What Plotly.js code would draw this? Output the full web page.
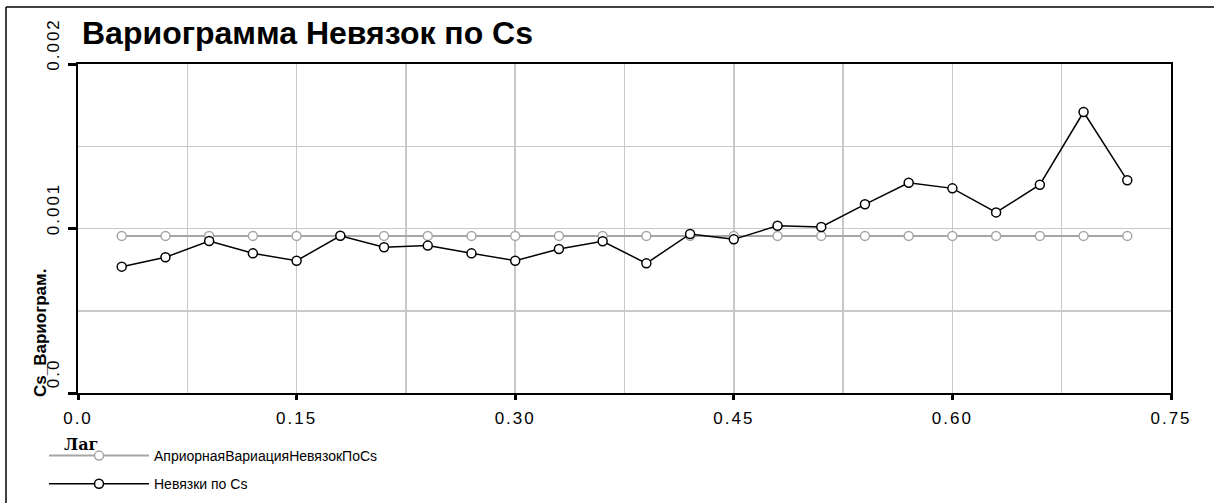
<!DOCTYPE html>
<html>
<head>
<meta charset="utf-8">
<script src="https://cdn.plot.ly/plotly-3.0.1.min.js"></script>
<style>
html,body{margin:0;padding:0;background:#fff;}
#chart{width:1214px;height:503px;}
.xtick text, .ytick text {letter-spacing: 2px;}
</style>
</head>
<body>
<div id="chart"></div>
<script>
// Lag values (x)
const lags = [0.03,0.06,0.09,0.12,0.15,0.18,0.21,0.24,0.27,0.30,0.33,0.36,
              0.39,0.42,0.45,0.48,0.51,0.54,0.57,0.60,0.63,0.66,0.69,0.72];
// A priori variation (constant)
const aprioriValues = [0.000955,0.000955,0.000955,0.000955,0.000955,0.000955,0.000955,0.000955,
                       0.000955,0.000955,0.000955,0.000955,0.000955,0.000955,0.000955,0.000955,
                       0.000955,0.000955,0.000955,0.000955,0.000955,0.000955,0.000955,0.000955];
// Residual variogram
const residualValues = [0.000768,0.000825,0.000924,0.000849,0.000804,0.000956,0.000886,0.000896,
                        0.000849,0.000804,0.000875,0.000922,0.000788,0.000967,0.000934,0.001017,
                        0.001009,0.001147,0.001278,0.001244,0.001098,0.001266,0.001708,0.001293];
const seriesNames = ["АприорнаяВариацияНевязокПоCs", "Невязки по Cs"];
const xTickVals = [0, 0.15, 0.30, 0.45, 0.60, 0.75];
const xTickText = ["0.0", "0.15", "0.30", "0.45", "0.60", "0.75"];
const yTickVals = [0, 0.001, 0.002];
const yTickText = ["0.0", "0.001", "0.002"];

const F = '"Liberation Sans", Arial, sans-serif';

const traces = [
  {
    x: lags, y: aprioriValues, name: seriesNames[0], type: 'scatter', mode: 'lines+markers',
    line: {color: '#a6a6a6', width: 2},
    marker: {symbol: 'circle', size: 9, color: '#ffffff', line: {color: '#a6a6a6', width: 1.5}},
    legendgroup: 'a'
  },
  {
    x: lags, y: residualValues, name: seriesNames[1], type: 'scatter', mode: 'lines+markers',
    line: {color: '#000000', width: 1.5},
    marker: {symbol: 'circle', size: 9, color: '#ffffff', line: {color: '#000000', width: 1.5}},
    legendgroup: 'b'
  }
];

const W = 1214, H = 503, L = 78, R = 43, T = 64, B = 110;
const pw = W - L - R, ph = H - T - B;
const px = p => (p - L) / pw;          // pixel x -> paper
const py = p => (H - B - p) / ph;      // pixel y -> paper

const layout = {
  width: W, height: H,
  margin: {l: L, r: R, t: T, b: B, pad: 0, autoexpand: false},
  paper_bgcolor: '#ffffff', plot_bgcolor: '#ffffff',
  font: {family: F, color: '#000000', size: 15},
  title: {text: 'Вариограмма Невязок по Cs', x: 82 / W, xanchor: 'left', xref: 'container',
          y: 1 - 33 / H, yanchor: 'middle', yref: 'container',
          font: {family: F, size: 32, color: '#000000', weight: 'bold'}},
  showlegend: true,
  legend: {x: 44 / W, y: 1 - 440 / H, xref: 'container', yref: 'container',
           xanchor: 'left', yanchor: 'top', orientation: 'v',
           font: {family: F, size: 14, color: '#000000'}, bgcolor: 'rgba(0,0,0,0)',
           traceorder: 'grouped', tracegroupgap: 7, itemwidth: 100},
  xaxis: {
    range: [0, 0.75], tickmode: 'array', tickvals: xTickVals, ticktext: xTickText,
    showgrid: true, gridcolor: '#c8c8c8', gridwidth: 1.5,
    minor: {dtick: 0.075, tick0: 0, showgrid: true, gridcolor: '#c8c8c8', gridwidth: 1.5, ticks: ''},
    ticks: 'outside', ticklen: 5, tickwidth: 3, tickcolor: '#000',
    showline: true, linecolor: '#000', linewidth: 2, mirror: true,
    zeroline: false, ticklabelstandoff: 4, tickfont: {family: F, size: 17, color: '#000'}
  },
  yaxis: {
    range: [0, 0.002], tickmode: 'array', tickvals: yTickVals, ticktext: yTickText,
    showgrid: true, gridcolor: '#c8c8c8', gridwidth: 1.5,
    minor: {dtick: 0.0005, tick0: 0, showgrid: true, gridcolor: '#c8c8c8', gridwidth: 1.5, ticks: ''},
    ticks: 'outside', ticklen: 8, tickwidth: 3, tickcolor: '#000',
    showline: true, linecolor: '#000', linewidth: 2, mirror: true,
    zeroline: false, tickangle: -90, ticklabelshift: -17, ticklabelstandoff: 2,
    tickfont: {family: F, size: 17, color: '#000'}
  },
  annotations: [
    {text: '<b>Cs_Вариограм.</b>', textangle: -90, xref: 'paper', yref: 'paper',
     x: px(40), y: py(399), xanchor: 'center', yanchor: 'bottom', showarrow: false,
     font: {family: F, size: 17, color: '#000'}},
    {text: '<b>Лаг</b>', xref: 'paper', yref: 'paper', x: px(62), y: py(444),
     xanchor: 'left', yanchor: 'middle', showarrow: false,
     font: {family: '"DejaVu Serif", serif', size: 16, color: '#000'}}
  ],
  shapes: [
    {type: 'line', xref: 'paper', yref: 'paper', x0: px(6), x1: px(1214), y0: py(7), y1: py(7),
     line: {color: '#000', width: 1.5}},
    {type: 'line', xref: 'paper', yref: 'paper', x0: px(6), x1: px(6), y0: py(7), y1: py(503),
     line: {color: '#000', width: 1.5}}
  ]
};

Plotly.newPlot('chart', traces, layout, {staticPlot: true, displayModeBar: false});
</script>
</body>
</html>
